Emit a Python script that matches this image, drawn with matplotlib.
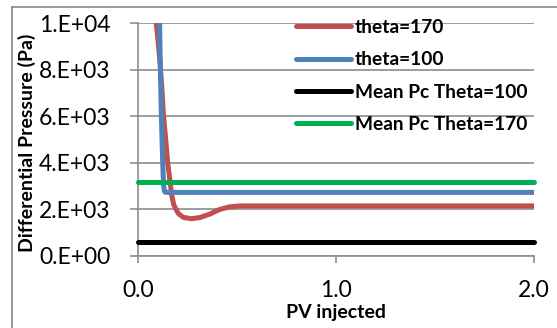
import math
import matplotlib
matplotlib.use("Agg")
import matplotlib.pyplot as plt
from matplotlib.lines import Line2D
from matplotlib.ticker import FuncFormatter, FixedLocator

# ---- data ----
red_x = [0.08, 0.092, 0.104, 0.114, 0.122, 0.129, 0.140, 0.150, 0.161, 0.170, 0.181, 0.203, 0.228, 0.27, 0.312, 0.363, 0.413, 0.463, 0.514, 0.6, 1.0, 1.5, 2.0]
red_y = [11500, 10000, 9000, 8000, 7000, 6000, 5000, 4000, 3260, 2620, 2190, 1830, 1660, 1600, 1650, 1800, 2000, 2110, 2150, 2150, 2150, 2150, 2150]
blue_x = [0.105, 0.109, 0.113, 0.118, 0.123, 0.127, 0.130, 0.133, 0.137, 0.145, 1.0, 2.0]
blue_y = [12000, 10000, 8000, 6000, 4500, 3500, 3000, 2800, 2740, 2730, 2730, 2730]
black_x = [0.0, 2.0]
black_y = [590, 590]
green_x = [0.0, 2.0]
green_y = [3170, 3170]
labels = ["theta=170", "theta=100", "Mean Pc Theta=100", "Mean Pc Theta=170"]
x_ticks = [0.0, 1.0, 2.0]
y_ticks = [0, 2000, 4000, 6000, 8000, 10000]
x_label = "PV injected"
y_label = "Differential Pressure (Pa)"

FONT = ["Lato", "DejaVu Sans"]
plt.rcParams["font.family"] = FONT

fig = plt.figure(figsize=(5.57, 3.28), dpi=100)
W, H = 557, 328
ax = fig.add_axes([138 / W, 1 - 256 / H, (534 - 138) / W, (256 - 23) / H])

lw = 3.6
ax.plot(red_x, red_y, color="#C0504D", lw=lw, solid_capstyle="round", solid_joinstyle="round", label=labels[0], zorder=3)
ax.plot(blue_x, blue_y, color="#4F81BD", lw=lw, solid_capstyle="butt", solid_joinstyle="round", label=labels[1], zorder=4)
ax.plot(black_x, black_y, color="#000000", lw=lw, solid_capstyle="round", label=labels[2], zorder=5, clip_on=False)
ax.plot(green_x, green_y, color="#00B050", lw=lw, solid_capstyle="round", label=labels[3], zorder=6, clip_on=False)

ax.set_xlim(0, 2.0)
ax.set_ylim(0, 10000)
ax.xaxis.set_major_locator(FixedLocator(x_ticks))
ax.yaxis.set_major_locator(FixedLocator(y_ticks))


def excel_sci(v, pos=None):
    if v == 0:
        return "0.E+00"
    e = int(math.floor(math.log10(abs(v))))
    m = v / 10 ** e
    return f"{m:.0f}.E{'+' if e >= 0 else '-'}{abs(e):02d}"


ax.yaxis.set_major_formatter(FuncFormatter(excel_sci))
ax.xaxis.set_major_formatter(FuncFormatter(lambda v, p: f"{v:.1f}"))

ax.grid(axis="y", color="#8c8c8c", lw=1.2)
ax.set_axisbelow(True)
for s in ["top", "right"]:
    ax.spines[s].set_visible(False)
for s in ["left", "bottom"]:
    ax.spines[s].set_color("#8c8c8c")
    ax.spines[s].set_linewidth(1.2)
    ax.spines[s].set_zorder(2)

ax.tick_params(axis="y", direction="out", length=6, width=1.2, color="#8c8c8c",
               labelsize=16.5, pad=14, labelcolor="#000000")
ax.tick_params(axis="x", direction="out", length=5, width=1.2, color="#8c8c8c",
               labelsize=16.5, pad=12.5, labelcolor="#000000")

ax.set_xlabel(x_label, fontsize=14, fontweight="bold")
ax.xaxis.set_label_coords(0.5, -0.205)
ax.set_ylabel(y_label, fontsize=14, fontweight="bold")
ax.yaxis.set_label_coords((36 - 138) / (534 - 138), 0.487)

leg = fig.legend(loc="upper left", bbox_to_anchor=(296 / W, 1 - 19 / H), frameon=False,
                 handlelength=2.86, handletextpad=0.22, labelspacing=0.8, borderpad=0,
                 borderaxespad=0, prop={"weight": "bold", "size": 13.8, "family": FONT})
for h in leg.get_lines():
    h.set_linewidth(3.6)
    h.set_solid_capstyle("round")

# outer chart-area border (top and left edges visible)
fig.add_artist(Line2D([12 / W, 12 / W], [0, 1 - 7 / H], color="#868686", lw=1.2))
fig.add_artist(Line2D([12 / W, 1], [1 - 7 / H, 1 - 7 / H], color="#868686", lw=1.2))

fig.savefig("out.png", dpi=100)
